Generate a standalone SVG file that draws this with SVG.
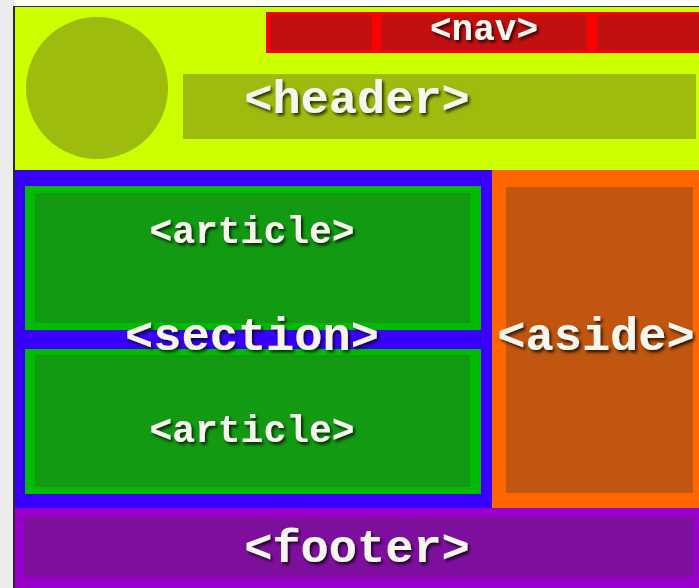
<svg xmlns="http://www.w3.org/2000/svg" width="699" height="588" viewBox="0 0 699 588">
<defs>
<filter id="sh" x="-10%" y="-30%" width="130%" height="170%">
<feDropShadow dx="2" dy="2.5" stdDeviation="1.5" flood-color="#000" flood-opacity="0.75"/>
</filter>
</defs>
<style>
text{font-family:"Liberation Mono","Courier New",monospace;font-weight:bold;fill:#f6f6ee;text-anchor:middle;filter:url(#sh)}
</style>
<rect x="0" y="0" width="699" height="588" fill="#ffffff"/>
<rect x="0" y="0" width="14" height="588" fill="#ececec"/>
<rect x="13" y="6" width="686" height="582" fill="#2a2a2a"/>
<g id="header">
<rect x="15" y="7" width="684" height="163" fill="#ccff00"/>
<circle cx="97" cy="88" r="71" fill="#9dbc0e"/>
<rect x="183" y="74" width="513" height="65" fill="#9dbc0e"/>
<text x="357" y="113" font-size="47">&lt;header&gt;</text>
</g>
<g id="nav">
<rect x="266" y="12" width="433" height="41" fill="#ff0000"/>
<rect x="270" y="15" width="102" height="35" fill="#c21010"/>
<rect x="381" y="15" width="206" height="35" fill="#c21010"/>
<rect x="597" y="15" width="102" height="35" fill="#c21010"/>
<text x="484" y="40" font-size="36">&lt;nav&gt;</text>
</g>
<g id="section">
<rect x="15" y="170" width="477" height="338" fill="#3800f8"/>
</g>
<g id="article1">
<rect x="25" y="186" width="456" height="144" fill="#00bb00"/>
<rect x="35" y="193" width="435" height="130" fill="#129a12"/>
<text x="252" y="243" font-size="38">&lt;article&gt;</text>
</g>
<g id="article2">
<rect x="25" y="349" width="456" height="145" fill="#00bb00"/>
<rect x="35" y="355" width="435" height="132" fill="#129a12"/>
<text x="252" y="442" font-size="38">&lt;article&gt;</text>
</g>
<g id="section-label">
<text x="252" y="350" font-size="47">&lt;section&gt;</text>
</g>
<g id="aside">
<rect x="492" y="170" width="207" height="338" fill="#ff6600"/>
<rect x="506" y="187" width="187" height="306" fill="#c0560f"/>
<text x="596" y="350" font-size="47">&lt;aside&gt;</text>
</g>
<g id="footer">
<rect x="15" y="508" width="684" height="80" fill="#9900cc"/>
<rect x="24" y="517" width="670" height="60" fill="#7e0f9e"/>
<text x="357" y="562" font-size="47">&lt;footer&gt;</text>
</g>
<g id="connectors"/>
</svg>
